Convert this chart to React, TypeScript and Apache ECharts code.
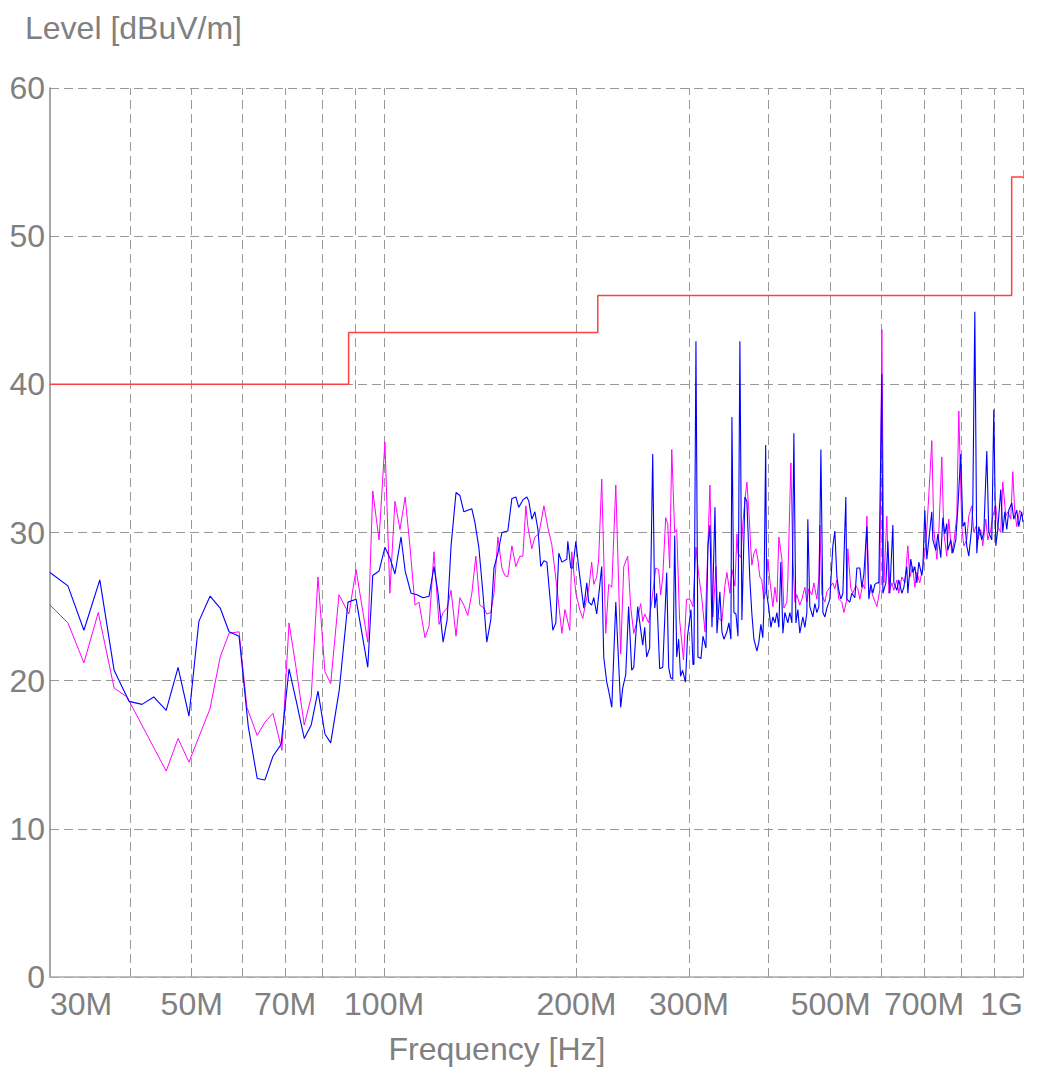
import React, { useEffect, useRef } from "react";
import * as echarts from "echarts";

// Frequencies in MHz, levels in dBuV/m
const limitFreq = [30, 88, 88, 216, 216, 960, 960, 1000];
const limitLevel = [40, 40, 43.5, 43.5, 46, 46, 54, 54];

const gridFreqs = [40, 50, 60, 70, 80, 90, 100, 200, 300, 400, 500, 600, 700, 800, 900, 1000];
const labelFreqs = [30, 50, 70, 100, 200, 300, 500, 700, 1000];

const blueTrace: [number, number][] = [
  [30, 27.3], [32, 26.4], [33.9, 23.4], [35.9, 26.8], [37.8, 20.7], [39.9, 18.6], [41.8, 18.4], [43.6, 18.9], [45.6, 18.0], [47.6, 20.9],
  [49.5, 17.6], [51.3, 24.0], [53.4, 25.7], [55.4, 24.9], [57.2, 23.3], [59.3, 23.0], [61.3, 16.9], [63.3, 13.4], [65.1, 13.3], [67, 14.9],
  [69, 15.7], [71, 20.8], [72.8, 18.7], [75, 16.1], [76.9, 17.0], [78.8, 19.3], [80.8, 16.4], [82.5, 15.8], [85.1, 19.4], [87.8, 25.3],
  [90.4, 25.5], [94.3, 20.9], [96, 27.1], [98.2, 27.4], [100.3, 29.0], [102.1, 28.3], [104, 27.2], [106.3, 29.7], [107.9, 27.4], [110.2, 25.9],
  [112.6, 25.8], [115.1, 25.6], [117.6, 25.7], [119.7, 27.7], [121.4, 26.0], [123.7, 22.6], [125.5, 24.1], [127.3, 29.1], [129.6, 32.7], [131.4, 32.5],
  [133.3, 31.4], [137.2, 31.6], [138.7, 30.7], [140.7, 29.0], [142.8, 25.9], [144.8, 22.6], [146.9, 24.1], [148.6, 27.6], [150.7, 28.6], [152.9, 30.0],
  [156.2, 30.1], [158.5, 32.3], [160.8, 32.4], [162.5, 31.7], [164.9, 32.2], [167.3, 32.4], [168.5, 32.1], [170.3, 30.9], [172.2, 31.4], [174.1, 30.2],
  [175.9, 27.7], [177.9, 28.1], [179.8, 28.0], [183.7, 23.4], [185.7, 23.9], [187.7, 28.6], [189.8, 28.0], [193.2, 28.2], [193.9, 29.4], [196, 27.6],
  [197.4, 27.6], [199.6, 29.4], [201.7, 27.6], [205.4, 24.9], [207.6, 26.6], [209.1, 25.3], [211.3, 25.1], [212.9, 25.6], [215.2, 24.5], [219.1, 27.7],
  [220.7, 21.6], [223.1, 19.9], [224.7, 19.3], [227.2, 18.2], [230.5, 25.3], [234.6, 18.2], [236.3, 19.5], [238.9, 20.4], [241.4, 25.0], [244.1, 20.7],
  [245.9, 20.9], [249.4, 25.0], [254, 22.4], [255.8, 23.6], [257.6, 21.6], [260.4, 22.2], [263.3, 35.3], [265.2, 24.9], [267.1, 25.9], [270, 20.8],
  [273, 20.9], [276.9, 27.3], [278.9, 20.9], [280.9, 20.2], [283, 20.1], [285, 29.8], [287.1, 21.6], [289.1, 22.8], [291.1, 20.3], [293.2, 20.7],
  [296.3, 19.9], [298.5, 23.0], [302.2, 24.8], [304.4, 21.1], [305.5, 21.1], [307.7, 42.9], [309.9, 21.6], [313.3, 21.5], [315.6, 23.0], [319, 22.2],
  [321.3, 29.1], [323.6, 30.5], [326, 23.6], [329.5, 31.7], [331.9, 23.2], [335.4, 26.0], [337.9, 23.3], [340.3, 22.8], [344, 23.3], [346.5, 23.9],
  [349, 22.8], [350.3, 37.8], [352.8, 24.6], [355.4, 24.5], [358, 23.0], [360.5, 42.9], [363.1, 24.1], [365.8, 29.7], [367.1, 32.4], [369.7, 32.1],
  [373.7, 26.8], [376.4, 24.5], [379.2, 22.8], [383.3, 22.0], [386, 22.6], [388.8, 23.8], [391.5, 22.9], [392.9, 24.6], [395.6, 35.9], [397, 25.9],
  [399.8, 25.0], [403.1, 23.6], [406, 24.3], [409, 23.9], [411.9, 24.6], [414.8, 23.6], [417.8, 28.0], [420.9, 23.2], [423.9, 24.6], [428.5, 23.9],
  [431.6, 24.6], [434.8, 23.9], [437.9, 36.7], [441.1, 23.9], [444.3, 24.8], [447.4, 23.2], [452.3, 24.3], [455.6, 23.6], [458.9, 24.6], [460.5, 30.9],
  [463.8, 25.0], [468.9, 24.3], [472.3, 25.2], [475.8, 24.6], [479.2, 25.0], [482.7, 35.6], [486.2, 24.6], [489.7, 24.3], [493.2, 24.9], [498.5, 25.5],
  [504, 29.1], [507.6, 30.1], [511.3, 27.0], [514.9, 26.1], [518.7, 25.5], [522.5, 25.9], [528.1, 32.4], [530, 25.5], [535.7, 25.3], [539.6, 25.9],
  [545.6, 25.6], [549.5, 27.6], [555.4, 27.6], [559.5, 26.3], [563.6, 27.2], [569.7, 30.4], [573.8, 25.5], [577.9, 26.5], [582.1, 25.9], [586.3, 26.5],
  [590.6, 26.6], [594.8, 26.6], [601.3, 40.7], [603.5, 25.9], [610.1, 26.6], [614.5, 29.4], [618.8, 25.9], [625.6, 30.5], [627.9, 26.6], [634.7, 26.1],
  [639.2, 26.8], [646.2, 25.9], [650.9, 26.3], [657.9, 27.7], [660.3, 25.9], [667.4, 28.2], [672.3, 27.3], [677.2, 27.7], [682.1, 26.6], [687, 28.0],
  [694.5, 27.1], [697, 27.6], [702, 31.5], [707.1, 28.2], [712.2, 29.5], [719.9, 31.4], [722.6, 29.5], [730.4, 28.8], [735.7, 29.9], [743.6, 28.3],
  [749, 31.0], [754.4, 29.9], [759.8, 30.6], [762.6, 28.8], [770.8, 29.5], [776.5, 28.6], [784.9, 29.5], [790.5, 31.6], [799.1, 35.3], [805, 30.4],
  [810.8, 30.7], [816.6, 29.1], [822.5, 28.4], [831.5, 30.4], [834.5, 31.8], [840.6, 44.9], [846.6, 28.6], [852.7, 30.4], [862, 29.5], [868.3, 30.0],
  [877.7, 35.5], [884, 30.0], [893.6, 29.5], [900.1, 38.3], [906.6, 29.1], [913.1, 30.2], [923, 32.9], [929.7, 30.0], [936.5, 31.4], [943.2, 30.2],
  [950, 31.5], [960.3, 32.0], [967.3, 30.9], [977.8, 31.5], [984.8, 30.4], [995, 31.4], [1000, 30.7],
];

const magentaTrace: [number, number][] = [
  [30, 25.1], [32, 23.9], [33.9, 21.2], [35.7, 24.6], [37.8, 19.5], [39.6, 18.9], [45.6, 13.9], [47.6, 16.1], [49.5, 14.5], [51.3, 16.2],
  [53.4, 18.1], [55.4, 21.6], [57.2, 23.2], [59.3, 23.3], [61, 18.2], [63.3, 16.3], [65.1, 17.2], [67, 17.8], [69.2, 15.3], [71, 23.9],
  [72.8, 20.9], [75, 17.0], [76.9, 18.9], [78.8, 27.0], [80.8, 20.6], [82.5, 19.8], [85, 25.8], [88.1, 24.5], [90.4, 27.5], [94.3, 22.6],
  [96, 32.8], [98.2, 29.5], [100.3, 36.1], [102.1, 25.9], [104, 32.1], [105.9, 30.2], [107.9, 32.4], [109.8, 29.0], [111.8, 25.1], [113.4, 25.3],
  [115.9, 22.9], [117.6, 23.7], [119.7, 28.7], [121.9, 23.8], [123.7, 24.6], [125.5, 24.9], [127.3, 26.1], [129.6, 23.0], [131.4, 25.6], [133.3, 25.1],
  [135.2, 24.4], [137.2, 25.9], [139.2, 28.4], [141.2, 25.1], [143.3, 24.9], [144.8, 24.5], [146.9, 24.6], [148.6, 25.9], [150.7, 29.7], [152.9, 27.6],
  [154.5, 27.1], [156.2, 27.0], [158.5, 29.1], [160.8, 27.7], [163.1, 28.4], [164.9, 28.4], [166.7, 31.8], [167.9, 30.4], [170.3, 28.9], [172.2, 29.7],
  [174.7, 29.9], [177.9, 31.8], [180.5, 30.3], [183, 29.2], [186.4, 26.3], [189.8, 23.2], [191.9, 24.8], [195.3, 23.4], [196.7, 28.7], [199.6, 25.9],
  [202.4, 24.8], [204.6, 24.2], [207.6, 25.6], [209.1, 26.2], [211.3, 28.0], [212.9, 26.5], [215.2, 27.0], [216.7, 28.2], [219.1, 33.6], [222.3, 23.2],
  [224.7, 26.5], [227.2, 26.3], [230.5, 33.2], [234.6, 21.8], [237.2, 27.7], [240.6, 28.4], [243.2, 25.0], [245.9, 23.2], [248.5, 23.9], [252.1, 25.2],
  [254, 24.0], [255.8, 24.5], [259.5, 23.9], [262.3, 25.3], [266.2, 27.6], [269, 27.5], [271, 25.8], [273, 27.0], [275.9, 31.0], [277.9, 30.6],
  [279.9, 27.6], [282, 35.6], [285, 30.0], [287.1, 30.2], [290.1, 24.1], [294.2, 21.4], [297.4, 25.5], [301.1, 25.5], [304.4, 25.0], [307.7, 29.0],
  [311, 27.0], [314.4, 25.5], [317.9, 23.3], [323.6, 33.2], [327.1, 24.3], [330.7, 27.7], [333, 24.3], [337.9, 24.0], [341.5, 26.4], [344, 27.3],
  [347.7, 25.9], [350.3, 27.5], [354.1, 26.4], [356.7, 29.9], [358, 28.6], [361.8, 28.3], [364.5, 30.7], [367.1, 32.2], [369.7, 33.4], [372.4, 31.4],
  [375, 28.9], [376.4, 27.8], [379.2, 28.6], [381.9, 28.9], [384.6, 28.2], [387.4, 27.0], [390.1, 26.8], [392.9, 25.5], [395.6, 26.0], [398.8, 28.2],
  [401.6, 26.8], [406, 25.0], [409, 26.3], [411.9, 25.3], [414.8, 29.7], [419.4, 28.2], [422.4, 24.9], [427, 25.3], [428.5, 26.8], [433.2, 34.7],
  [436.3, 28.2], [439.5, 25.3], [442.6, 25.8], [447.4, 25.1], [450.7, 25.5], [455.6, 26.3], [458.9, 25.3], [462.1, 26.2], [467.2, 25.8], [470.6, 26.6],
  [475.8, 25.5], [479.2, 27.0], [480.9, 30.5], [484.4, 25.8], [489.7, 25.3], [493.2, 26.0], [498.5, 26.3], [504, 26.6], [507.6, 26.2], [511.3, 26.8],
  [514.9, 25.5], [520.6, 25.3], [524.4, 24.6], [530, 25.5], [531.9, 28.9], [537.7, 26.2], [541.6, 25.9], [547.5, 26.4], [551.5, 26.2], [555.4, 25.5],
  [561.5, 26.5], [565.6, 26.2], [569.7, 31.1], [573.8, 25.9], [577.9, 26.2], [582.1, 25.7], [590.6, 25.0], [596.9, 26.1], [601.3, 43.7], [605.7, 26.6],
  [612.2, 31.1], [616.6, 25.9], [623.4, 26.6], [627.9, 26.1], [634.7, 26.8], [639.2, 25.9], [646.2, 27.0], [653.2, 26.6], [660.3, 29.1], [665, 27.0],
  [672.3, 27.7], [677.2, 26.3], [682.1, 27.3], [689.4, 26.6], [697, 27.7], [702, 28.6], [707.1, 30.2], [714.7, 33.7], [719.9, 36.2], [725.2, 30.2],
  [733, 28.2], [738.3, 30.0], [746.3, 35.1], [751.7, 30.0], [759.8, 28.4], [765.3, 30.9], [773.6, 28.6], [779.2, 29.3], [787.7, 31.1], [793.4, 38.2],
  [802, 30.4], [807.9, 29.1], [816.6, 29.5], [822.5, 31.1], [831.5, 31.8], [837.5, 30.0], [843.6, 30.4], [849.7, 29.5], [858.8, 30.2], [865.1, 29.1],
  [874.6, 30.9], [880.9, 29.5], [890.3, 30.2], [896.8, 31.1], [906.6, 31.8], [913.1, 30.4], [923, 30.0], [929.7, 33.4], [939.9, 31.1], [946.6, 31.4],
  [956.8, 30.9], [963.8, 34.1], [970.8, 31.4], [977.8, 30.4], [988.3, 31.5], [1000, 31.1],
];

const TEXT_GRAY = "#808080";
const GRID_GRAY = "#9a9a9a";
const FONT = "'Liberation Sans', Arial, Helvetica, sans-serif";

function formatFreq(v: number): string {
  if (v >= 1000) return Math.round(v / 1000) + "G";
  return Math.round(v) + "M";
}

export default function App() {
  const ref = useRef<HTMLDivElement>(null);

  useEffect(() => {
    if (!ref.current) return;
    const chart = echarts.init(ref.current, null, { renderer: "svg" });
    const limitData = limitFreq.map((f, i) => [f, limitLevel[i]]);
    chart.setOption({
      animation: false,
      grid: { left: 50, right: 15, top: 88, bottom: 96 },
      xAxis: {
        type: "log",
        logBase: 10,
        min: 30,
        max: 1000,
        axisLine: { show: true, lineStyle: { color: "#aaaaaa", width: 1.5 } },
        axisTick: {
          show: true,
          inside: true,
          length: 7,
          customValues: gridFreqs,
          lineStyle: { color: "#8a8a8a", width: 1 },
        },
        minorTick: { show: false },
        axisLabel: {
          customValues: labelFreqs,
          formatter: (v: number) => formatFreq(v),
          fontSize: 32,
          color: TEXT_GRAY,
          fontFamily: FONT,
          margin: 11,
          alignMinLabel: "left",
          alignMaxLabel: "right",
        },
        splitLine: { show: false },
      },
      yAxis: {
        type: "value",
        min: 0,
        max: 60,
        interval: 10,
        axisLine: { show: true, lineStyle: { color: "#8a8a8a", width: 1.5 } },
        axisTick: { show: false },
        axisLabel: { fontSize: 32, color: TEXT_GRAY, fontFamily: FONT, margin: 5 },
        splitLine: { show: true, lineStyle: { color: GRID_GRAY, type: [9, 5], width: 1 } },
      },
      graphic: [
        {
          type: "text",
          x: 25,
          y: 27.5,
          style: {
            text: "Level [dBuV/m]",
            fill: TEXT_GRAY,
            font: `32px ${FONT}`,
            textAlign: "left",
            textVerticalAlign: "middle",
          },
        },
        {
          type: "text",
          x: 497,
          y: 1049,
          style: {
            text: "Frequency [Hz]",
            fill: TEXT_GRAY,
            font: `32px ${FONT}`,
            textAlign: "center",
            textVerticalAlign: "middle",
          },
        },
      ],
      series: [
        {
          name: "Limit",
          type: "line",
          data: limitData,
          symbol: "none",
          z: 4,
          lineStyle: { color: "#ff4040", width: 1.5 },
          markLine: {
            silent: true,
            z: 1,
            symbol: ["none", "none"],
            label: { show: false },
            lineStyle: { color: GRID_GRAY, type: [9, 5], width: 1 },
            emphasis: { disabled: true },
            data: gridFreqs.map((f) => ({ xAxis: f })),
          },
        },
        {
          name: "Average",
          type: "line",
          data: magentaTrace,
          symbol: "none",
          z: 2,
          lineStyle: { color: "#ff00ff", width: 1 },
        },
        {
          name: "Peak",
          type: "line",
          data: blueTrace,
          symbol: "none",
          z: 3,
          lineStyle: { color: "#0000ff", width: 1.1 },
        },
      ],
    });
    return () => chart.dispose();
  }, []);

  return (
    <div
      ref={ref}
      style={{ position: "fixed", left: 0, top: 0, width: 1038, height: 1073, background: "#ffffff" }}
    />
  );
}
